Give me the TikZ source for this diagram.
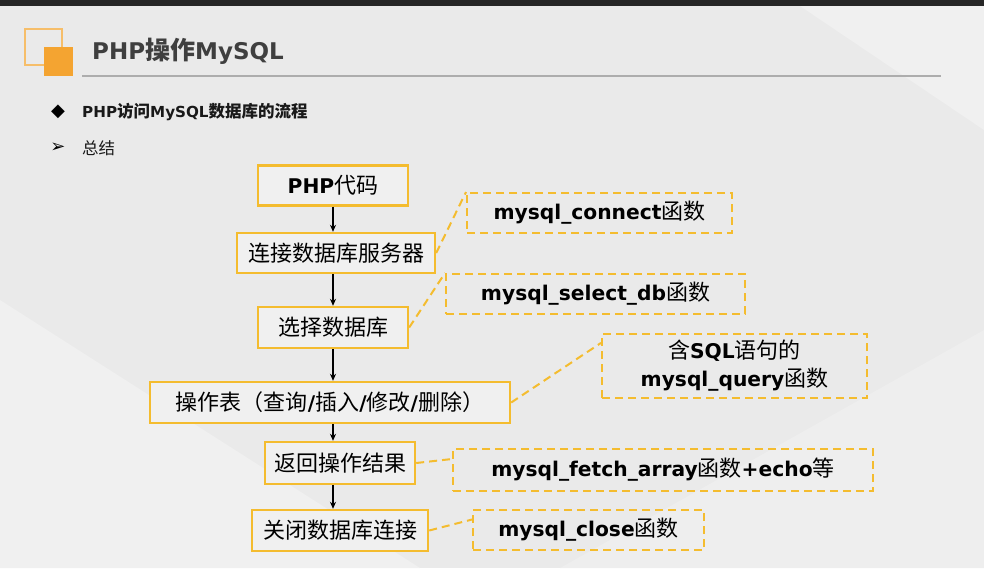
\documentclass[tikz,border=0pt]{standalone}
\usepackage{fontspec}
\usetikzlibrary{arrows.meta,calc}
\setmainfont{Noto Sans CJK SC}
\newfontfamily\dejab{DejaVu Sans}[Scale=0.92]
\newfontfamily\symf{DejaVu Sans}
\newcommand\lb[1]{{\dejab\bfseries #1}}
\definecolor{gold}{HTML}{F4BC2F}
\definecolor{orng}{HTML}{F4A431}
\definecolor{orngl}{HTML}{F6BE6A}
\definecolor{bgc}{HTML}{EAEAEA}
\definecolor{bgl}{HTML}{F0F0F0}
\definecolor{topbar}{HTML}{262626}
\definecolor{titlec}{HTML}{3F3F3F}
\definecolor{rulec}{HTML}{ADADAD}
\definecolor{boxfill}{HTML}{F0F0F0}
\begin{document}
\begin{tikzpicture}[x=1pt,y=-1pt,
  box/.style={draw=gold, line width=2.4pt, fill=boxfill, inner sep=0pt, text=black,
    font=\fontsize{22}{26}\selectfont},
  dbox/.style={draw=gold, line width=2pt, dash pattern=on 8pt off 5pt, inner sep=0pt, text=black,
    font=\fontsize{22}{28}\selectfont, align=center},
  conn/.style={gold, line width=2pt, dash pattern=on 8pt off 5pt},
  arr/.style={-{Stealth[length=7pt,width=6pt]}, line width=1.4pt, black}]
\useasboundingbox (0,0) rectangle (984,568);
\fill[bgc] (0,0) rectangle (984,568);
\fill[bgl] (800,6) -- (984,6) -- (984,130) -- cycle;
\fill[bgl] (0,300) -- (420,568) -- (0,568) -- cycle;
\fill[bgl!60!bgc] (560,568) -- (984,330) -- (984,568) -- cycle;
\fill[topbar] (0,0) rectangle (984,6);
% logo
\draw[orngl, line width=1.5pt] (25,29) rectangle (62,65);
\fill[orng] (44,47) rectangle (73,76);
\node[anchor=west, text=titlec, font=\fontsize{25}{30}\selectfont, inner sep=0pt] (title) at (92,51)
  {\lb{PHP}{\bfseries 操作}\lb{MySQL}};
\draw[rulec, line width=1.4pt] (82,76) -- (941,76);
% bullets
\node[font=\symf\fontsize{18}{20}\selectfont, inner sep=0pt] (d1) at (58,112) {◆};
\node[anchor=west, font=\fontsize{16.5}{19}\selectfont, inner sep=0pt, text=black!90] (t1) at (82,112)
  {\lb{PHP}{\bfseries 访问}\lb{MySQL}{\bfseries 数据库的流程}};
\node[font=\symf\fontsize{18}{20}\selectfont, inner sep=0pt] (d2) at (58,148) {➢};
\node[anchor=west, font=\fontsize{16.5}{19}\selectfont, inner sep=0pt, text=black!90] (t2) at (82,148) {总结};
% main boxes
\node[box, minimum width=150pt, minimum height=40pt] (b1) at (333,185.5) {\lb{PHP}代码};
\node[box, minimum width=198pt, minimum height=40pt] (b2) at (336,253) {连接数据库服务器};
\node[box, minimum width=150pt, minimum height=41pt] (b3) at (333,327.5) {选择数据库};
\node[box, minimum width=360pt, minimum height=41pt] (b4) at (330,402.5) {操作表（查询\lb{/}插入\lb{/}修改\lb{/}删除）};
\node[box, minimum width=150pt, minimum height=42pt] (b5) at (340,463) {返回操作结果};
\node[box, minimum width=176pt, minimum height=41pt] (b6) at (340,530.5) {关闭数据库连接};
% dashed boxes
\node[dbox, minimum width=265pt, minimum height=40pt] (a) at (599.5,213) {\lb{mysql\_connect}函数};
\node[dbox, minimum width=299pt, minimum height=40pt] (b) at (595.5,294) {\lb{mysql\_select\_db}函数};
\node[dbox, minimum width=265pt, minimum height=64pt] (c) at (734.5,366) {含\lb{SQL}语句的\\\lb{mysql\_query}函数};
\node[dbox, minimum width=420pt, minimum height=42pt] (d) at (663,470) {\lb{mysql\_fetch\_array}函数\lb{+echo}等};
\node[dbox, minimum width=231pt, minimum height=40pt] (e) at (588.5,530) {\lb{mysql\_close}函数};
% arrows
\draw[arr] (b1.south) -- (b1.south |- b2.north);
\draw[arr] (b2.south -| b1.south) -- (b3.north);
\draw[arr] (b3.south) -- (b3.south |- b4.north);
\draw[arr] (b4.south -| b3.south) -- (b3.south |- b5.north);
\draw[arr] (b5.south -| b3.south) -- (b3.south |- b6.north);
% dashed connectors
\draw[conn] (b2.east) -- (a.north west);
\draw[conn] (b3.east) -- (b.north west);
\draw[conn] (b4.east) -- ($(c.north west)!0.15!(c.south west)$);
\draw[conn] (b5.east) -- ($(d.west)!0.5!(d.north west)$);
\draw[conn] (b6.east) -- ($(e.west)!0.5!(e.north west)$);
\end{tikzpicture}
\end{document}
